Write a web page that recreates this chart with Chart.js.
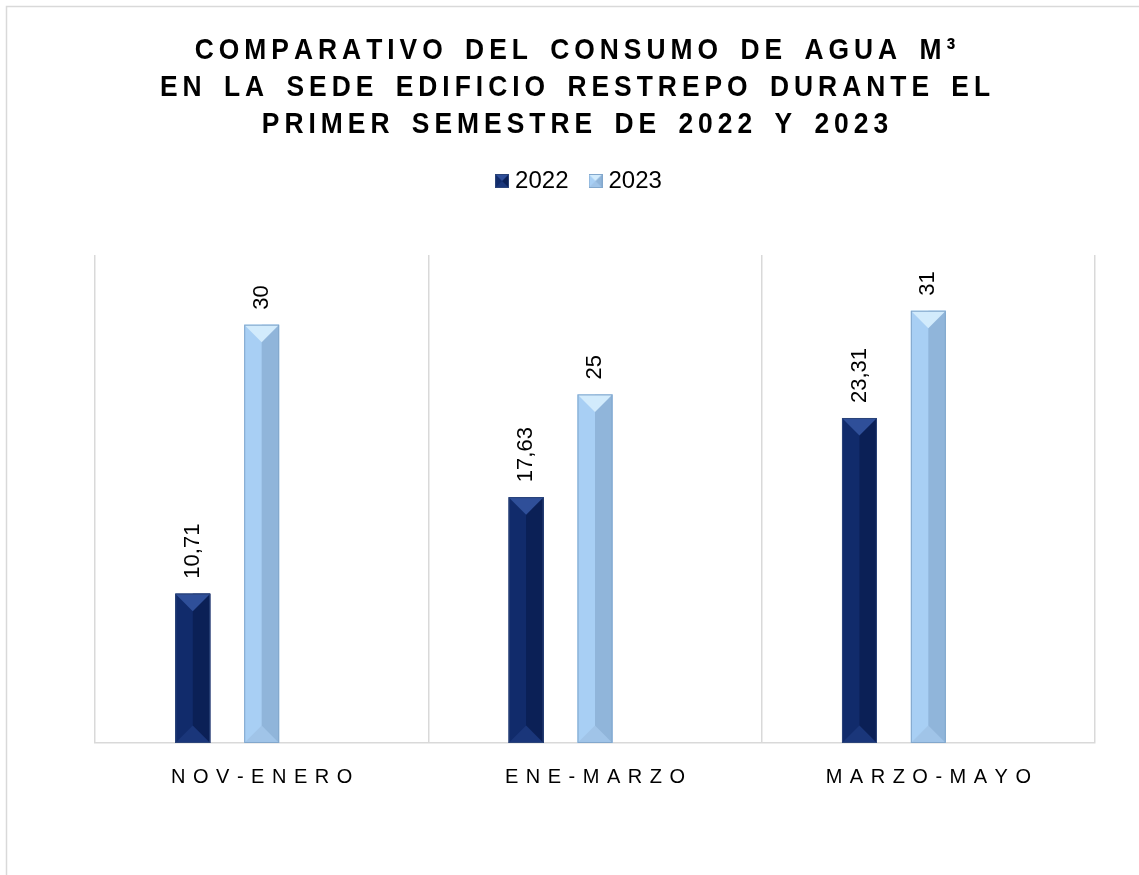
<!DOCTYPE html>
<html>
<head>
<meta charset="utf-8">
<script src="https://cdn.jsdelivr.net/npm/chart.js@4.4.0/dist/chart.umd.min.js"></script>
<style>
  html, body { margin: 0; padding: 0; background: #fff; }
  #contenedor { width: 1139px; height: 875px; }
</style>
</head>
<body>
<div id="contenedor"><canvas id="myChartAgua"></canvas></div>
<script>
// datos
var periodos = ["NOV-ENERO", "ENE-MARZO", "MARZO-MAYO"];
var series = ["2022", "2023"];
var consumo2022 = [10.71, 17.63, 23.31];
var consumo2023 = [30, 25, 31];
var titulo = [
  "COMPARATIVO DEL CONSUMO DE AGUA M³",
  "EN LA SEDE EDIFICIO RESTREPO DURANTE EL",
  "PRIMER SEMESTRE DE 2022 Y 2023"
];

var fuente = "'Liberation Sans', Arial, sans-serif";

var biselOscuro = { izq: "#112b6b", der: "#0b2056", arriba: "#2f4f99", abajo: "#1a367a", borde: "#2b4479" };
var biselClaro = { izq: "#a8cff4", der: "#90b5da", arriba: "#d2ebfc", abajo: "#a0c4e8", borde: "#82a7cc" };

// dibuja el efecto de piramide (bisel) de cada barra
var pintarBisel = function (ctx, l, t, r, b, c) {
  var w = r - l, h = w / 2, x = l + w / 2;
  if (b - t < w) h = (b - t) / 2;
  ctx.fillStyle = c.izq;
  ctx.fillRect(l, t, w, b - t);
  ctx.fillStyle = c.der;
  ctx.fillRect(x, t, r - x, b - t);
  ctx.fillStyle = c.abajo;
  ctx.beginPath(); ctx.moveTo(l, b); ctx.lineTo(r, b); ctx.lineTo(x, b - h); ctx.closePath(); ctx.fill();
  ctx.fillStyle = c.arriba;
  ctx.beginPath(); ctx.moveTo(l, t); ctx.lineTo(r, t); ctx.lineTo(x, t + h); ctx.closePath(); ctx.fill();
  ctx.strokeStyle = c.borde;
  ctx.lineWidth = 1;
  ctx.strokeRect(l + 0.5, t + 0.5, w - 1, b - t - 1);
};

var iconoLeyenda = function (c) {
  var cv = document.createElement("canvas");
  cv.width = 14; cv.height = 14;
  pintarBisel(cv.getContext("2d"), 0, 0, 14, 14, c);
  return cv;
};

// texto con espaciado entre letras (sx = compresion horizontal)
var textoEspaciado = function (ctx, texto, x, y, esp, sx, espPalabra) {
  sx = sx || 1;
  espPalabra = espPalabra || 0;
  var letras = Array.from(texto);
  var ancho = (c) => ctx.measureText(c).width * sx + esp + (c === " " ? espPalabra : 0);
  var total = -esp;
  letras.forEach((c) => { total += ancho(c); });
  var cx = x - total / 2;
  ctx.textAlign = "left";
  letras.forEach((c) => {
    ctx.save();
    ctx.translate(cx, y);
    ctx.scale(sx, 1);
    ctx.fillText(c, 0, 0);
    ctx.restore();
    cx += ancho(c);
  });
};

var pluginAgua = {
  id: "pluginAgua",
  beforeInit(chart) {
    var fitOriginal = chart.legend.fit;
    chart.legend.fit = function () {
      fitOriginal.bind(chart.legend)();
      this.height += 52; // espacio entre leyenda y area
    };
  },
  beforeDraw(chart) {
    var ctx = chart.ctx;
    ctx.save();
    ctx.strokeStyle = "#d9d9d9";
    ctx.lineWidth = 1.5;
    ctx.strokeRect(6.5, 6.5, chart.width + 20, chart.height + 20);
    ctx.restore();
  },
  afterDatasetsDraw(chart) {
    var ctx = chart.ctx;
    ctx.save();
    chart.data.datasets.forEach((ds, i) => {
      if (!ds.bisel) return;
      chart.getDatasetMeta(i).data.forEach((bar, j) => {
        if (ds.data[j] == null) return;
        var p = bar.getProps(["x", "y", "base", "width"], true);
        pintarBisel(ctx, p.x - p.width / 2, p.y, p.x + p.width / 2, p.base, ds.bisel);
        // etiqueta rotada
        ctx.save();
        ctx.translate(p.x, p.y - 15);
        ctx.rotate(-Math.PI / 2);
        ctx.fillStyle = "#000";
        ctx.font = "22px " + fuente;
        ctx.textAlign = "left";
        ctx.textBaseline = "middle";
        ctx.fillText(String(ds.data[j]).replace(".", ","), 0, 0);
        ctx.restore();
      });
    });
    ctx.restore();
  },
  afterDraw(chart) {
    var ctx = chart.ctx;
    ctx.save();
    ctx.fillStyle = "#000";
    ctx.textBaseline = "alphabetic";
    ctx.font = "bold 30px " + fuente;
    titulo.forEach((linea, k) => {
      textoEspaciado(ctx, linea, 575, 59 + k * 37, 5, 0.88, 5);
    });
    var xs = chart.scales.x;
    ctx.font = "20px " + fuente;
    ctx.textBaseline = "middle";
    periodos.forEach((p, k) => {
      textoEspaciado(ctx, p, xs.getPixelForValue(k), chart.chartArea.bottom + 34, 7.5);
    });
    ctx.restore();
  }
};

var chartAgua = new Chart(document.getElementById("myChartAgua").getContext("2d"), {
  type: "bar",
  data: {
    labels: periodos,
    datasets: [
      {
        label: series[0],
        data: consumo2022,
        backgroundColor: biselOscuro.izq,
        pointStyle: iconoLeyenda(biselOscuro),
        bisel: biselOscuro,
      },
      {
        label: series[1],
        data: consumo2023,
        backgroundColor: biselClaro.izq,
        pointStyle: iconoLeyenda(biselClaro),
        bisel: biselClaro,
      },
      {
        label: "",
        data: [null, null, null],
        backgroundColor: "rgba(0,0,0,0)",
      },
    ],
  },
  options: {
    responsive: true,
    maintainAspectRatio: false,
    animation: false,
    categoryPercentage: 0.62,
    barPercentage: 0.507,
    layout: { padding: { top: 143, left: 68, right: 44, bottom: 132 } },
    scales: {
      x: {
        grid: { color: "#d9d9d9", lineWidth: 1.5, drawTicks: false },
        border: { color: "#d9d9d9", width: 1.5 },
        ticks: { display: false },
      },
      y: {
        min: 0,
        max: 35,
        ticks: { display: false },
        grid: { display: false },
        border: { display: false },
        afterFit: function (scale) { scale.width = 27; },
      },
    },
    plugins: {
      title: { display: false },
      tooltip: { enabled: false },
      legend: {
        position: "top",
        labels: {
          usePointStyle: true,
          pointStyleWidth: 2,
          padding: 26,
          color: "#000",
          font: { size: 24, family: fuente },
          filter: (item) => item.datasetIndex < 2,
        },
      },
    },
  },
  plugins: [pluginAgua],
});
</script>
</body>
</html>
